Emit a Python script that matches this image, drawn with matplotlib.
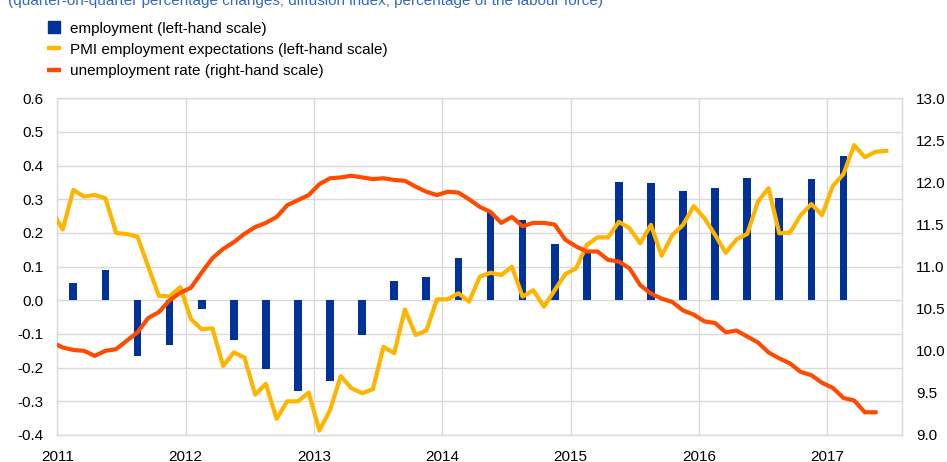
import numpy as np
import matplotlib
matplotlib.use("Agg")
import matplotlib.pyplot as plt
from matplotlib.lines import Line2D

plt.rcParams['font.family'] = ['Liberation Sans', 'DejaVu Sans']

# ---- data (monthly, first value = Dec 2010) ----
pmi = [0.266, 0.21, 0.328, 0.308, 0.313, 0.303, 0.20, 0.197, 0.189, 0.10, 0.013,
       0.012, 0.039, -0.056, -0.086, -0.083, -0.195, -0.155, -0.17, -0.28, -0.248,
       -0.352, -0.30, -0.30, -0.274, -0.387, -0.326, -0.225, -0.261, -0.276, -0.264,
       -0.138, -0.157, -0.027, -0.103, -0.09, 0.003, 0.003, 0.021, -0.004, 0.07,
       0.082, 0.075, 0.10, 0.011, 0.03, -0.019, 0.03, 0.078, 0.095, 0.164,
       0.187, 0.187, 0.233, 0.214, 0.169, 0.224, 0.132, 0.194, 0.224, 0.28,
       0.244, 0.194, 0.141, 0.181, 0.197, 0.293, 0.333, 0.199, 0.201, 0.253,
       0.286, 0.253, 0.339, 0.375, 0.461, 0.425, 0.441, 0.444]

unemp = [10.10, 10.04, 10.01, 10.00, 9.94, 10.00, 10.02, 10.12, 10.22, 10.39, 10.46,
         10.60, 10.69, 10.75, 10.93, 11.10, 11.21, 11.29, 11.39, 11.47, 11.52,
         11.59, 11.73, 11.79, 11.85, 11.98, 12.05, 12.06, 12.08, 12.06, 12.04,
         12.05, 12.03, 12.02, 11.95, 11.89, 11.85, 11.89, 11.88, 11.80, 11.71,
         11.65, 11.52, 11.59, 11.48, 11.52, 11.52, 11.50, 11.32, 11.24, 11.18,
         11.18, 11.08, 11.06, 10.98, 10.78, 10.68, 10.62, 10.58, 10.48, 10.43,
         10.35, 10.33, 10.22, 10.24, 10.17, 10.10, 9.98, 9.91, 9.85, 9.75,
         9.71, 9.62, 9.56, 9.44, 9.41, 9.27, 9.27]

# quarterly, 2011Q1 .. 2017Q1
employment = [0.05, 0.09, -0.165, -0.133, -0.026, -0.118, -0.203, -0.268,
              -0.239, -0.104, 0.057, 0.07, 0.127, 0.263, 0.24, 0.167,
              0.144, 0.352, 0.347, 0.325, 0.333, 0.364, 0.305, 0.361, 0.429]

years = ['2011', '2012', '2013', '2014', '2015', '2016', '2017']
left_ticks = [0.6, 0.5, 0.4, 0.3, 0.2, 0.1, 0.0, -0.1, -0.2, -0.3, -0.4]
right_ticks = [13.0, 12.5, 12.0, 11.5, 11.0, 10.5, 10.0, 9.5, 9.0]

labels = ['employment (left-hand scale)',
          'PMI employment expectations (left-hand scale)',
          'unemployment rate (right-hand scale)']
subtitle = '(quarter-on-quarter percentage changes; diffusion index; percentage of the labour force)'

BLUE = '#003299'
YELLOW = '#FFB400'
ORANGE = '#FF4B00'
GRID = '#D9D9D9'
FS = 11
LFS = 11

# month positions: month k (0 = Jan 2011) centred at k + 0.5
x_pmi = np.arange(len(pmi)) - 1 + 0.5
x_un = np.arange(len(unemp)) - 1 + 0.5
x_emp = np.arange(len(employment)) * 3 + 1 + 0.5

fig = plt.figure(figsize=(9.47, 4.62), dpi=100)
ax = fig.add_axes([57.3 / 947, 1 - 435 / 462, (902.3 - 57.3) / 947, (435 - 98.3) / 462])

ax.bar(x_emp, employment, width=0.72, color=BLUE, zorder=2)
ax.plot(x_pmi, pmi, color=YELLOW, lw=3, zorder=3, solid_joinstyle='round')
ax.set_xlim(0, 79)
ax.set_ylim(-0.4, 0.6)
ax.set_yticks(left_ticks)
ax.set_yticklabels([f'{v:.1f}' for v in left_ticks])
ax.set_xticks(np.arange(len(years)) * 12)
ax.set_xticklabels(years)
ax.grid(True, color=GRID, lw=1, zorder=0)
ax.set_axisbelow(True)
ax.tick_params(axis='both', length=0, labelsize=FS, colors='#000000')
ax.tick_params(axis='y', pad=10)
ax.tick_params(axis='x', pad=11)
for s in ax.spines.values():
    s.set_color(GRID)
    s.set_linewidth(1)

ax2 = ax.twinx()
ax2.plot(x_un, unemp, color=ORANGE, lw=3, zorder=3, solid_joinstyle='round')
ax2.set_ylim(9.0, 13.0)
ax2.set_yticks(right_ticks)
ax2.set_yticklabels([f'{v:.1f}' for v in right_ticks])
ax2.tick_params(axis='y', length=0, labelsize=FS, pad=10)
for s in ax2.spines.values():
    s.set_visible(False)
ax2.set_xlim(0, 79)

handles = [Line2D([], [], marker='s', markersize=9, color=BLUE, linestyle='none'),
           Line2D([], [], color=YELLOW, lw=3.2, solid_capstyle='butt'),
           Line2D([], [], color=ORANGE, lw=3.2, solid_capstyle='butt')]
fig.legend(handles, labels, loc='upper left', bbox_to_anchor=(47 / 947, 1 - 21.5 / 462),
           frameon=False, fontsize=LFS, handlelength=0.92, handletextpad=0.57,
           labelspacing=0.48, borderpad=0, borderaxespad=0)

fig.text(8 / 947, 1 - 5 / 462, subtitle, color='#3366CC', fontsize=FS,
         ha='left', va='baseline')

fig.savefig('out.png', dpi=100)
